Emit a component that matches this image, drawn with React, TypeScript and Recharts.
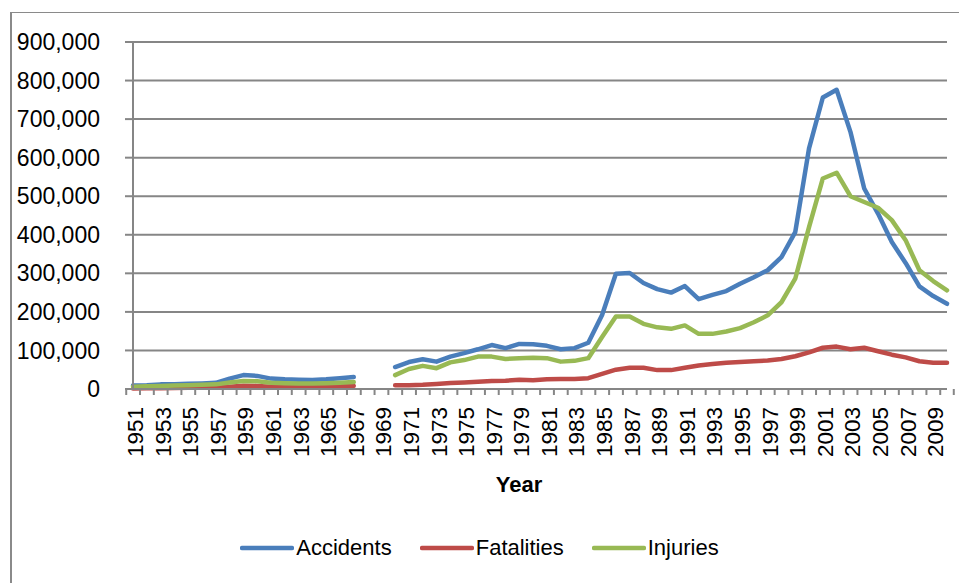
import React from 'react'
import { LineChart, Line, XAxis, YAxis, CartesianGrid, Legend } from 'recharts'

const years = Array.from({ length: 60 }, (_, i) => String(1951 + i))

// 1968 and 1969 have no data (gap in the chart)
const accidents = [
  9000, 10000, 12000, 12500, 13500, 14500, 16000, 27000, 36000, 34000,
  27000, 25000, 24000, 23500, 25000, 28000, 31000, null, null, 57000,
  70000, 77000, 71000, 84000, 93000, 103000, 114000, 106000, 117000, 116000,
  112000, 103000, 106000, 120000, 192000, 299000, 301000, 275000, 259000, 250000,
  267000, 233000, 244000, 254000, 273000, 290000, 308000, 342000, 407000, 624000,
  756000, 776000, 667000, 520000, 455000, 381000, 327000, 266000, 241000, 221000,
]
const fatalities = [
  1500, 2000, 2000, 2500, 3000, 3000, 3500, 6000, 8500, 8000,
  6000, 5500, 5000, 5000, 5500, 7000, 8000, null, null, 10000,
  10000, 11000, 13000, 15500, 17000, 19000, 20500, 21500, 24000, 23000,
  25000, 26000, 26000, 28000, 39000, 50000, 55000, 55000, 49000, 49000,
  55000, 61000, 65000, 68000, 70000, 72000, 74000, 78000, 85000, 95000,
  107000, 110000, 103000, 107000, 98000, 89000, 82000, 72000, 68000, 68000,
]
const injuries = [
  6000, 7000, 8000, 9000, 10000, 11000, 12000, 17000, 21000, 20000,
  16000, 15000, 14000, 14000, 15000, 16500, 18000, null, null, 36000,
  52000, 60000, 54000, 69000, 75000, 84000, 84000, 78000, 80000, 81000,
  80000, 71000, 73000, 80000, 135000, 188000, 188000, 169000, 160000, 156000,
  165000, 143000, 143000, 149000, 158000, 173000, 191000, 225000, 286000, 420000,
  546000, 561000, 500000, 485000, 470000, 438000, 386000, 308000, 280000, 256000,
]
const yTicks = [0, 100000, 200000, 300000, 400000, 500000, 600000, 700000, 800000, 900000]

const series = [
  { key: 'Accidents', color: '#4A7EBB' },
  { key: 'Fatalities', color: '#BE4B48' },
  { key: 'Injuries', color: '#98B954' },
]

const data = years.map((year, i) => ({
  year,
  Accidents: accidents[i],
  Fatalities: fatalities[i],
  Injuries: injuries[i],
}))

const FONT = '"Liberation Sans", Arial, sans-serif'
const GRID = '#868686'

// excel style: tick marks between categories, label on every other year
function YearTick(props: any) {
  const { x, y, payload } = props
  const half = payload.offset || 6.78
  const showLabel = payload.index % 2 === 0
  const isLast = payload.index === years.length - 1
  return (
    <g>
      <line x1={x - half} y1={y} x2={x - half} y2={y + 6} stroke={GRID} strokeWidth={2} />
      {isLast && <line x1={x + half} y1={y} x2={x + half} y2={y + 6} stroke={GRID} strokeWidth={2} />}
      {showLabel && (
        <text
          transform={`translate(${x + 10},${y + 18}) rotate(-90)`}
          textAnchor="end"
          fontSize={22.5}
          fontFamily={FONT}
          fill="#000"
        >
          {payload.value}
        </text>
      )}
    </g>
  )
}

function LegendRow() {
  return (
    <div style={{ display: 'flex', justifyContent: 'center', gap: 28, fontFamily: FONT, fontSize: 22, color: '#000' }}>
      {series.map(s => (
        <div key={s.key} style={{ display: 'flex', alignItems: 'center' }}>
          <svg width={54} height={8}>
            <line x1={2} y1={4} x2={52} y2={4} stroke={s.color} strokeWidth={4.5} strokeLinecap="round" />
          </svg>
          <span style={{ marginLeft: 2 }}>{s.key}</span>
        </div>
      ))}
    </div>
  )
}

export default function App() {
  return (
    <div style={{ position: 'absolute', left: 0, top: 0, width: 959, height: 583, background: '#fff' }}>
      <div
        style={{
          position: 'absolute', left: 10, top: 12, width: 949, height: 571,
          borderTop: '1px solid #8a8a8a', borderLeft: '2px solid #8a8a8a',
          boxSizing: 'border-box',
        }}
      />
      <LineChart
        width={959}
        height={583}
        data={data}
        margin={{ top: 42, right: 12, bottom: 74, left: 0 }}
        style={{ position: 'absolute', left: 0, top: 0 }}
      >
        <CartesianGrid vertical={false} stroke={GRID} strokeWidth={2} />
        <XAxis
          dataKey="year"
          interval={0}
          height={120}
          tickSize={0}
          tickMargin={0}
          tickLine={false}
          axisLine={{ stroke: GRID, strokeWidth: 2 }}
          tick={<YearTick />}
          label={{
            value: 'Year', position: 'insideBottom', offset: 17, dx: -21,
            style: { fontWeight: 700, fontSize: 22, fontFamily: FONT, fill: '#000' },
          }}
        />
        <YAxis
          width={133}
          domain={[0, 900000]}
          ticks={yTicks}
          interval={0}
          tickSize={8}
          tickMargin={25}
          tickLine={{ stroke: GRID, strokeWidth: 2 }}
          axisLine={{ stroke: GRID, strokeWidth: 2 }}
          tick={{ fontSize: 23, fontFamily: FONT, fill: '#000' }}
          tickFormatter={(v: number) => v.toLocaleString('en-US')}
        />
        <Legend
          verticalAlign="middle"
          align="center"
          layout="horizontal"
          content={<LegendRow />}
          wrapperStyle={{ top: 535, left: 0, width: 959 }}
        />
        {series.map(s => (
          <Line
            key={s.key}
            type="linear"
            dataKey={s.key}
            stroke={s.color}
            strokeWidth={4.5}
            strokeLinecap="round"
            strokeLinejoin="round"
            dot={false}
            activeDot={false}
            connectNulls={false}
            isAnimationActive={false}
          />
        ))}
      </LineChart>
    </div>
  )
}
